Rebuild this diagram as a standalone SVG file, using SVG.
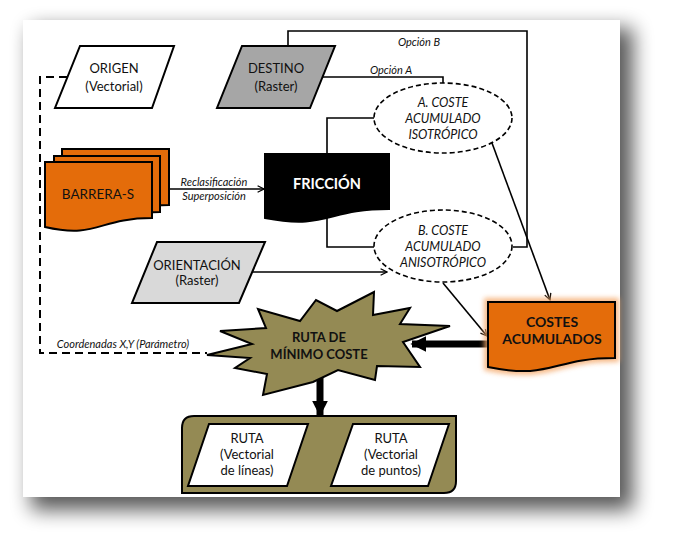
<svg xmlns="http://www.w3.org/2000/svg" width="675" height="549" viewBox="0 0 675 549">
<defs>
<filter id="pageShadow" x="-10%" y="-10%" width="125%" height="125%">
<feGaussianBlur stdDeviation="10"/>
</filter>
<filter id="glow" x="-20%" y="-20%" width="140%" height="140%">
<feGaussianBlur stdDeviation="2.5"/>
</filter>
<marker id="arr" viewBox="0 0 10 10" refX="9" refY="5" markerWidth="8" markerHeight="8" markerUnits="userSpaceOnUse" orient="auto">
<path d="M1,1 L9,5 L1,9" fill="none" stroke="#000" stroke-width="1.6"/>
</marker>
<marker id="arrS" viewBox="0 0 10 10" refX="1" refY="5" markerWidth="8" markerHeight="8" markerUnits="userSpaceOnUse" orient="auto">
<path d="M9,1 L1,5 L9,9" fill="none" stroke="#000" stroke-width="1.6"/>
</marker>
<marker id="fat" viewBox="0 0 10 10" refX="9" refY="5" markerWidth="16" markerHeight="16" markerUnits="userSpaceOnUse" orient="auto">
<path d="M0,0 L10,5 L0,10 Z" fill="#000"/>
</marker>
</defs>
<style>
text{font-family:Lato,"Liberation Sans",sans-serif;font-size:13px;fill:#111;text-anchor:middle}
.it{font-style:italic;font-size:11px}
.el{font-style:italic;font-size:12.5px}
.b{font-weight:bold}
.ln{fill:none;stroke:#000;stroke-width:1.6}
.par{stroke:#000;stroke-width:2}
.ell{fill:#fff;stroke:#000;stroke-width:1.6;stroke-dasharray:5 3}
</style>
<rect width="675" height="549" fill="#fff"/>
<rect x="31" y="28" width="602" height="482" fill="#000" opacity="0.65" filter="url(#pageShadow)"/>
<rect x="23" y="20" width="597" height="477" fill="#fff"/>

<g id="connectors">
<polyline class="ln" points="288,46 288,31 527,31 527,247 513,247"/>
<polyline class="ln" points="322,77 443,77 443,83"/>
<polyline class="ln" points="327,154 327,118 374,118"/>
<polyline class="ln" points="327,218 327,247 374,247"/>
<line class="ln" x1="169" y1="189" x2="264" y2="189" marker-end="url(#arr)"/>
<line class="ln" x1="252" y1="272" x2="387" y2="272" marker-end="url(#arr)"/>
<line class="ln" x1="492" y1="143" x2="550" y2="300" marker-end="url(#arr)"/>
<line class="ln" x1="443" y1="283" x2="487" y2="336" marker-end="url(#arr)"/>
<polyline fill="none" stroke="#000" stroke-width="2" stroke-dasharray="8 5" points="67,77 40,77 40,353 207,353"/>
<line x1="488" y1="344" x2="412" y2="344" stroke="#000" stroke-width="7" marker-end="url(#fat)"/>
<line x1="320" y1="378" x2="320" y2="415" stroke="#000" stroke-width="7" marker-end="url(#fat)"/>
<line class="ln" x1="299" y1="455" x2="342" y2="455" marker-start="url(#arrS)" marker-end="url(#arr)"/>
<text class="it" x="419" y="46">Opción B</text>
<text class="it" x="391" y="74">Opción A</text>
<text class="it" x="214" y="186">Reclasificación</text>
<text class="it" x="214" y="200">Superposición</text>
<text class="it" x="123" y="348">Coordenadas X,Y (Parámetro)</text>
</g>

<g id="origen">
<polygon class="par" fill="#fff" points="80,46 174,46 152,108 55,108"/>
<text x="114" y="73">ORIGEN</text>
<text x="114" y="91">(Vectorial)</text>
</g>

<g id="destino">
<polygon class="par" fill="#a6a6a6" points="242,46 335,46 310,108 217,108"/>
<text x="276" y="73">DESTINO</text>
<text x="276" y="91">(Raster)</text>
</g>

<g id="barrera">
<path class="par" fill="#e46c0a" d="M62,149 H169 V205 C115,205 115,226 62,214 Z"/>
<path class="par" fill="#e46c0a" d="M54,156 H160 V212 C107,212 107,233 54,221 Z"/>
<path class="par" fill="#e46c0a" d="M45,162 H152 V218 C98,218 98,239 45,227 Z"/>
<text x="98" y="199" style="font-size:13.5px">BARRERA-S</text>
</g>

<g id="friccion">
<path fill="#000" stroke="#000" stroke-width="2" d="M265,154 H389 V209 C327,209 327,230 265,218 Z"/>
<text class="b" x="327" y="189" style="font-size:14.5px;fill:#fff">FRICCIÓN</text>
</g>

<g id="orientacion">
<polygon class="par" fill="#d9d9d9" points="157,242 265,242 239,303 132,303"/>
<text x="197" y="270">ORIENTACIÓN</text>
<text x="197" y="285">(Raster)</text>
</g>

<g id="costeA">
<ellipse class="ell" cx="443" cy="118" rx="69" ry="35"/>
<text class="el" x="443" y="107">A. COSTE</text>
<text class="el" x="443" y="123">ACUMULADO</text>
<text class="el" x="443" y="139">ISOTRÓPICO</text>
</g>

<g id="costeB">
<ellipse class="ell" cx="443" cy="246" rx="69" ry="36"/>
<text class="el" x="443" y="235">B. COSTE</text>
<text class="el" x="443" y="251">ACUMULADO</text>
<text class="el" x="443" y="267">ANISOTRÓPICO</text>
</g>

<g id="costes">
<path fill="none" stroke="#f5a96a" stroke-width="8" opacity="0.8" filter="url(#glow)" d="M488,302 H615 V358 C552,358 552,380 488,367 Z"/>
<path class="par" fill="#e46c0a" d="M488,302 H615 V358 C552,358 552,380 488,367 Z"/>
<text class="b" x="552" y="327" style="font-size:14px">COSTES</text>
<text class="b" x="552" y="344" style="font-size:14px">ACUMULADOS</text>
</g>

<g id="ruta-minimo">
<polygon class="par" fill="#948a54" points="207,355 252,344 220,331 266,328 258,309 300,321 316,300 337,311 374,292 373,315 410,308 400,324 450,326 403,342 420,367 377,366 375,380 338,370 313,382 263,395 267,374 235,368 250,358"/>
<text class="b" x="319" y="342">RUTA DE</text>
<text class="b" x="319" y="359">MÍNIMO COSTE</text>
</g>

<g id="ruta-salida">
<path class="par" fill="#948a54" d="M194,416 H456 V481 Q456,493 444,493 H182 V428 Q182,416 194,416 Z"/>
</g>

<g id="ruta-lineas">
<polygon class="par" fill="#fff" points="209,424 308,424 287,486 188,486"/>
<text x="247" y="443">RUTA</text>
<text x="247" y="459">(Vectorial</text>
<text x="247" y="475">de líneas)</text>
</g>

<g id="ruta-puntos">
<polygon class="par" fill="#fff" points="353,424 449,424 428,486 331,486"/>
<text x="391" y="443">RUTA</text>
<text x="391" y="459">(Vectorial</text>
<text x="391" y="475">de puntos)</text>
</g>
</svg>
